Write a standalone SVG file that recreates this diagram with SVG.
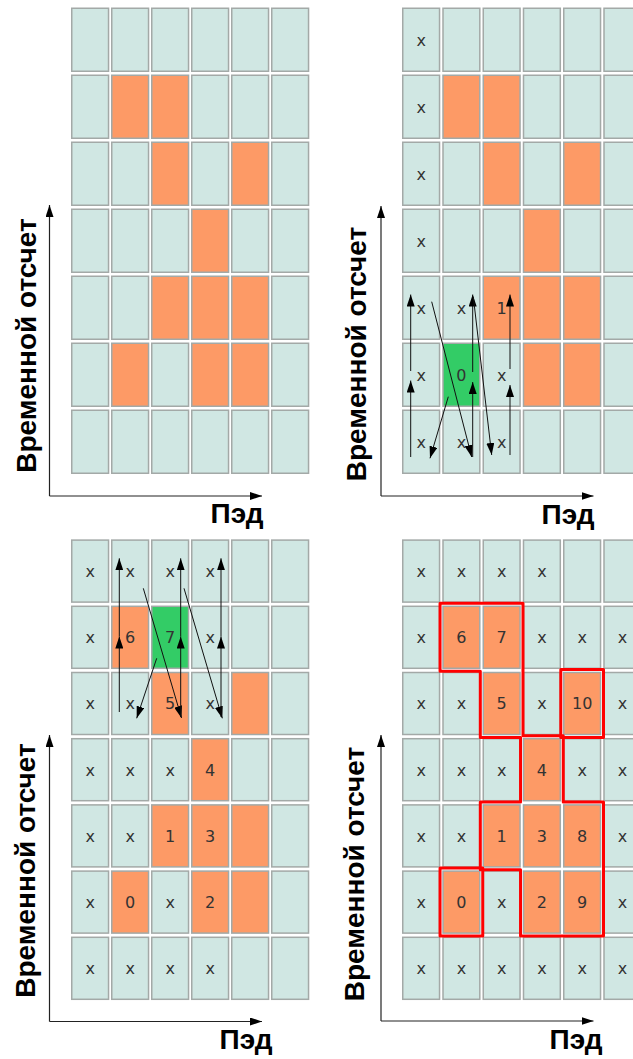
<svg xmlns="http://www.w3.org/2000/svg" width="633" height="1059" viewBox="0 0 633 1059">
<style>
.c{fill:#d0e7e3;stroke:#a3a9a7;stroke-width:1.5}
.o{fill:#fd9a66;stroke:#a3a9a7;stroke-width:1.5}
.g{fill:#33cc66;stroke:#a3a9a7;stroke-width:1.5}
.t{font-family:"DejaVu Sans",sans-serif;font-size:16px;fill:#333;text-anchor:middle}
.lab{font-family:"Liberation Sans",Arial,sans-serif;font-weight:bold;font-size:28px;fill:#000;text-anchor:middle}
.ax{stroke:#222;stroke-width:1.2;fill:none}
.ar{stroke:#111;stroke-width:1;fill:none}
.red{fill:none;stroke:#f00;stroke-width:3;stroke-linejoin:round}
</style>
<defs>
<marker id="ah" markerUnits="userSpaceOnUse" markerWidth="12" markerHeight="8" refX="12" refY="4" orient="auto"><path d="M0,0 L12,4 L0,8 z" fill="#000"/></marker>
</defs>
<rect width="633" height="1059" fill="#fff"/>

<!-- Panel 1 -->
<g id="panel1">
<g id="p1-r0c0"><rect class="c" x="71.75" y="8.25" width="36.8" height="63"/></g>
<g id="p1-r0c1"><rect class="c" x="111.75" y="8.25" width="36.8" height="63"/></g>
<g id="p1-r0c2"><rect class="c" x="151.75" y="8.25" width="36.8" height="63"/></g>
<g id="p1-r0c3"><rect class="c" x="191.75" y="8.25" width="36.8" height="63"/></g>
<g id="p1-r0c4"><rect class="c" x="231.75" y="8.25" width="36.8" height="63"/></g>
<g id="p1-r0c5"><rect class="c" x="271.75" y="8.25" width="36.8" height="63"/></g>
<g id="p1-r1c0"><rect class="c" x="71.75" y="75.25" width="36.8" height="63"/></g>
<g id="p1-r1c1"><rect class="o" x="111.75" y="75.25" width="36.8" height="63"/></g>
<g id="p1-r1c2"><rect class="o" x="151.75" y="75.25" width="36.8" height="63"/></g>
<g id="p1-r1c3"><rect class="c" x="191.75" y="75.25" width="36.8" height="63"/></g>
<g id="p1-r1c4"><rect class="c" x="231.75" y="75.25" width="36.8" height="63"/></g>
<g id="p1-r1c5"><rect class="c" x="271.75" y="75.25" width="36.8" height="63"/></g>
<g id="p1-r2c0"><rect class="c" x="71.75" y="142.25" width="36.8" height="63"/></g>
<g id="p1-r2c1"><rect class="c" x="111.75" y="142.25" width="36.8" height="63"/></g>
<g id="p1-r2c2"><rect class="o" x="151.75" y="142.25" width="36.8" height="63"/></g>
<g id="p1-r2c3"><rect class="c" x="191.75" y="142.25" width="36.8" height="63"/></g>
<g id="p1-r2c4"><rect class="o" x="231.75" y="142.25" width="36.8" height="63"/></g>
<g id="p1-r2c5"><rect class="c" x="271.75" y="142.25" width="36.8" height="63"/></g>
<g id="p1-r3c0"><rect class="c" x="71.75" y="209.25" width="36.8" height="63"/></g>
<g id="p1-r3c1"><rect class="c" x="111.75" y="209.25" width="36.8" height="63"/></g>
<g id="p1-r3c2"><rect class="c" x="151.75" y="209.25" width="36.8" height="63"/></g>
<g id="p1-r3c3"><rect class="o" x="191.75" y="209.25" width="36.8" height="63"/></g>
<g id="p1-r3c4"><rect class="c" x="231.75" y="209.25" width="36.8" height="63"/></g>
<g id="p1-r3c5"><rect class="c" x="271.75" y="209.25" width="36.8" height="63"/></g>
<g id="p1-r4c0"><rect class="c" x="71.75" y="276.25" width="36.8" height="63"/></g>
<g id="p1-r4c1"><rect class="c" x="111.75" y="276.25" width="36.8" height="63"/></g>
<g id="p1-r4c2"><rect class="o" x="151.75" y="276.25" width="36.8" height="63"/></g>
<g id="p1-r4c3"><rect class="o" x="191.75" y="276.25" width="36.8" height="63"/></g>
<g id="p1-r4c4"><rect class="o" x="231.75" y="276.25" width="36.8" height="63"/></g>
<g id="p1-r4c5"><rect class="c" x="271.75" y="276.25" width="36.8" height="63"/></g>
<g id="p1-r5c0"><rect class="c" x="71.75" y="343.25" width="36.8" height="63"/></g>
<g id="p1-r5c1"><rect class="o" x="111.75" y="343.25" width="36.8" height="63"/></g>
<g id="p1-r5c2"><rect class="c" x="151.75" y="343.25" width="36.8" height="63"/></g>
<g id="p1-r5c3"><rect class="o" x="191.75" y="343.25" width="36.8" height="63"/></g>
<g id="p1-r5c4"><rect class="o" x="231.75" y="343.25" width="36.8" height="63"/></g>
<g id="p1-r5c5"><rect class="c" x="271.75" y="343.25" width="36.8" height="63"/></g>
<g id="p1-r6c0"><rect class="c" x="71.75" y="410.25" width="36.8" height="63"/></g>
<g id="p1-r6c1"><rect class="c" x="111.75" y="410.25" width="36.8" height="63"/></g>
<g id="p1-r6c2"><rect class="c" x="151.75" y="410.25" width="36.8" height="63"/></g>
<g id="p1-r6c3"><rect class="c" x="191.75" y="410.25" width="36.8" height="63"/></g>
<g id="p1-r6c4"><rect class="c" x="231.75" y="410.25" width="36.8" height="63"/></g>
<g id="p1-r6c5"><rect class="c" x="271.75" y="410.25" width="36.8" height="63"/></g>
<g id="p1-axes"><path class="ax" d="M49.5,496 V205" marker-end="url(#ah)"/><path class="ax" d="M49.5,496 H262" marker-end="url(#ah)"/></g>
<text class="lab" transform="translate(36,345.5) rotate(-90)">Временной отсчет</text>
<text class="lab" x="237" y="523">Пэд</text>
</g>

<!-- Panel 2 -->
<g id="panel2">
<g id="p2-r0c0"><rect class="c" x="402.75" y="8.25" width="36.8" height="63"/><text class="t" x="421.15" y="46">x</text></g>
<g id="p2-r0c1"><rect class="c" x="443" y="8.25" width="36.8" height="63"/></g>
<g id="p2-r0c2"><rect class="c" x="483.25" y="8.25" width="36.8" height="63"/></g>
<g id="p2-r0c3"><rect class="c" x="523.5" y="8.25" width="36.8" height="63"/></g>
<g id="p2-r0c4"><rect class="c" x="563.75" y="8.25" width="36.8" height="63"/></g>
<g id="p2-r0c5"><rect class="c" x="604" y="8.25" width="36.8" height="63"/></g>
<g id="p2-r1c0"><rect class="c" x="402.75" y="75.25" width="36.8" height="63"/><text class="t" x="421.15" y="113">x</text></g>
<g id="p2-r1c1"><rect class="o" x="443" y="75.25" width="36.8" height="63"/></g>
<g id="p2-r1c2"><rect class="o" x="483.25" y="75.25" width="36.8" height="63"/></g>
<g id="p2-r1c3"><rect class="c" x="523.5" y="75.25" width="36.8" height="63"/></g>
<g id="p2-r1c4"><rect class="c" x="563.75" y="75.25" width="36.8" height="63"/></g>
<g id="p2-r1c5"><rect class="c" x="604" y="75.25" width="36.8" height="63"/></g>
<g id="p2-r2c0"><rect class="c" x="402.75" y="142.25" width="36.8" height="63"/><text class="t" x="421.15" y="180">x</text></g>
<g id="p2-r2c1"><rect class="c" x="443" y="142.25" width="36.8" height="63"/></g>
<g id="p2-r2c2"><rect class="o" x="483.25" y="142.25" width="36.8" height="63"/></g>
<g id="p2-r2c3"><rect class="c" x="523.5" y="142.25" width="36.8" height="63"/></g>
<g id="p2-r2c4"><rect class="o" x="563.75" y="142.25" width="36.8" height="63"/></g>
<g id="p2-r2c5"><rect class="c" x="604" y="142.25" width="36.8" height="63"/></g>
<g id="p2-r3c0"><rect class="c" x="402.75" y="209.25" width="36.8" height="63"/><text class="t" x="421.15" y="247">x</text></g>
<g id="p2-r3c1"><rect class="c" x="443" y="209.25" width="36.8" height="63"/></g>
<g id="p2-r3c2"><rect class="c" x="483.25" y="209.25" width="36.8" height="63"/></g>
<g id="p2-r3c3"><rect class="o" x="523.5" y="209.25" width="36.8" height="63"/></g>
<g id="p2-r3c4"><rect class="c" x="563.75" y="209.25" width="36.8" height="63"/></g>
<g id="p2-r3c5"><rect class="c" x="604" y="209.25" width="36.8" height="63"/></g>
<g id="p2-r4c0"><rect class="c" x="402.75" y="276.25" width="36.8" height="63"/><text class="t" x="421.15" y="314">x</text></g>
<g id="p2-r4c1"><rect class="c" x="443" y="276.25" width="36.8" height="63"/><text class="t" x="461.4" y="314">x</text></g>
<g id="p2-r4c2"><rect class="o" x="483.25" y="276.25" width="36.8" height="63"/><text class="t" x="501.65" y="314">1</text></g>
<g id="p2-r4c3"><rect class="o" x="523.5" y="276.25" width="36.8" height="63"/></g>
<g id="p2-r4c4"><rect class="o" x="563.75" y="276.25" width="36.8" height="63"/></g>
<g id="p2-r4c5"><rect class="c" x="604" y="276.25" width="36.8" height="63"/></g>
<g id="p2-r5c0"><rect class="c" x="402.75" y="343.25" width="36.8" height="63"/><text class="t" x="421.15" y="381">x</text></g>
<g id="p2-r5c1"><rect class="g" x="443" y="343.25" width="36.8" height="63"/><text class="t" x="461.4" y="381">0</text></g>
<g id="p2-r5c2"><rect class="c" x="483.25" y="343.25" width="36.8" height="63"/><text class="t" x="501.65" y="381">x</text></g>
<g id="p2-r5c3"><rect class="o" x="523.5" y="343.25" width="36.8" height="63"/></g>
<g id="p2-r5c4"><rect class="o" x="563.75" y="343.25" width="36.8" height="63"/></g>
<g id="p2-r5c5"><rect class="c" x="604" y="343.25" width="36.8" height="63"/></g>
<g id="p2-r6c0"><rect class="c" x="402.75" y="410.25" width="36.8" height="63"/><text class="t" x="421.15" y="448">x</text></g>
<g id="p2-r6c1"><rect class="c" x="443" y="410.25" width="36.8" height="63"/><text class="t" x="461.4" y="448">x</text></g>
<g id="p2-r6c2"><rect class="c" x="483.25" y="410.25" width="36.8" height="63"/><text class="t" x="501.65" y="448">x</text></g>
<g id="p2-r6c3"><rect class="c" x="523.5" y="410.25" width="36.8" height="63"/></g>
<g id="p2-r6c4"><rect class="c" x="563.75" y="410.25" width="36.8" height="63"/></g>
<g id="p2-r6c5"><rect class="c" x="604" y="410.25" width="36.8" height="63"/></g>
<g id="p2-connectors">
<path class="ar" d="M410.7,457 V380.5" marker-end="url(#ah)"/>
<path class="ar" d="M410.7,371 V294.5" marker-end="url(#ah)"/>
<path class="ar" d="M431.7,301.7 L471.7,457" marker-end="url(#ah)"/>
<path class="ar" d="M472.7,457 V382" marker-end="url(#ah)"/>
<path class="ar" d="M472.7,372 V294.5" marker-end="url(#ah)"/>
<path class="ar" d="M473.3,296.7 L491.7,455" marker-end="url(#ah)"/>
<path class="ar" d="M510,455 V385" marker-end="url(#ah)"/>
<path class="ar" d="M510,369 V294.5" marker-end="url(#ah)"/>
<path class="ar" d="M448.3,396.7 L430,458.3" marker-end="url(#ah)"/>
</g>
<g id="p2-axes"><path class="ax" d="M381,496 V206" marker-end="url(#ah)"/><path class="ax" d="M381,496 H593.5" marker-end="url(#ah)"/></g>
<text class="lab" transform="translate(365.5,354) rotate(-90)">Временной отсчет</text>
<text class="lab" x="568" y="524">Пэд</text>
</g>

<!-- Panel 3 -->
<g id="panel3">
<g id="p3-r0c0"><rect class="c" x="71.75" y="540.1" width="36.8" height="62"/><text class="t" x="90.15" y="577">x</text></g>
<g id="p3-r0c1"><rect class="c" x="111.75" y="540.1" width="36.8" height="62"/><text class="t" x="130.15" y="577">x</text></g>
<g id="p3-r0c2"><rect class="c" x="151.75" y="540.1" width="36.8" height="62"/><text class="t" x="170.15" y="577">x</text></g>
<g id="p3-r0c3"><rect class="c" x="191.75" y="540.1" width="36.8" height="62"/><text class="t" x="210.15" y="577">x</text></g>
<g id="p3-r0c4"><rect class="c" x="231.75" y="540.1" width="36.8" height="62"/></g>
<g id="p3-r0c5"><rect class="c" x="271.75" y="540.1" width="36.8" height="62"/></g>
<g id="p3-r1c0"><rect class="c" x="71.75" y="606.3" width="36.8" height="62"/><text class="t" x="90.15" y="643.2">x</text></g>
<g id="p3-r1c1"><rect class="o" x="111.75" y="606.3" width="36.8" height="62"/><text class="t" x="130.15" y="643.2">6</text></g>
<g id="p3-r1c2"><rect class="g" x="151.75" y="606.3" width="36.8" height="62"/><text class="t" x="170.15" y="643.2">7</text></g>
<g id="p3-r1c3"><rect class="c" x="191.75" y="606.3" width="36.8" height="62"/><text class="t" x="210.15" y="643.2">x</text></g>
<g id="p3-r1c4"><rect class="c" x="231.75" y="606.3" width="36.8" height="62"/></g>
<g id="p3-r1c5"><rect class="c" x="271.75" y="606.3" width="36.8" height="62"/></g>
<g id="p3-r2c0"><rect class="c" x="71.75" y="672.5" width="36.8" height="62"/><text class="t" x="90.15" y="709.4">x</text></g>
<g id="p3-r2c1"><rect class="c" x="111.75" y="672.5" width="36.8" height="62"/><text class="t" x="130.15" y="709.4">x</text></g>
<g id="p3-r2c2"><rect class="o" x="151.75" y="672.5" width="36.8" height="62"/><text class="t" x="170.15" y="709.4">5</text></g>
<g id="p3-r2c3"><rect class="c" x="191.75" y="672.5" width="36.8" height="62"/><text class="t" x="210.15" y="709.4">x</text></g>
<g id="p3-r2c4"><rect class="o" x="231.75" y="672.5" width="36.8" height="62"/></g>
<g id="p3-r2c5"><rect class="c" x="271.75" y="672.5" width="36.8" height="62"/></g>
<g id="p3-r3c0"><rect class="c" x="71.75" y="738.7" width="36.8" height="62"/><text class="t" x="90.15" y="775.6">x</text></g>
<g id="p3-r3c1"><rect class="c" x="111.75" y="738.7" width="36.8" height="62"/><text class="t" x="130.15" y="775.6">x</text></g>
<g id="p3-r3c2"><rect class="c" x="151.75" y="738.7" width="36.8" height="62"/><text class="t" x="170.15" y="775.6">x</text></g>
<g id="p3-r3c3"><rect class="o" x="191.75" y="738.7" width="36.8" height="62"/><text class="t" x="210.15" y="775.6">4</text></g>
<g id="p3-r3c4"><rect class="c" x="231.75" y="738.7" width="36.8" height="62"/></g>
<g id="p3-r3c5"><rect class="c" x="271.75" y="738.7" width="36.8" height="62"/></g>
<g id="p3-r4c0"><rect class="c" x="71.75" y="804.9" width="36.8" height="62"/><text class="t" x="90.15" y="841.8">x</text></g>
<g id="p3-r4c1"><rect class="c" x="111.75" y="804.9" width="36.8" height="62"/><text class="t" x="130.15" y="841.8">x</text></g>
<g id="p3-r4c2"><rect class="o" x="151.75" y="804.9" width="36.8" height="62"/><text class="t" x="170.15" y="841.8">1</text></g>
<g id="p3-r4c3"><rect class="o" x="191.75" y="804.9" width="36.8" height="62"/><text class="t" x="210.15" y="841.8">3</text></g>
<g id="p3-r4c4"><rect class="o" x="231.75" y="804.9" width="36.8" height="62"/></g>
<g id="p3-r4c5"><rect class="c" x="271.75" y="804.9" width="36.8" height="62"/></g>
<g id="p3-r5c0"><rect class="c" x="71.75" y="871.1" width="36.8" height="62"/><text class="t" x="90.15" y="908">x</text></g>
<g id="p3-r5c1"><rect class="o" x="111.75" y="871.1" width="36.8" height="62"/><text class="t" x="130.15" y="908">0</text></g>
<g id="p3-r5c2"><rect class="c" x="151.75" y="871.1" width="36.8" height="62"/><text class="t" x="170.15" y="908">x</text></g>
<g id="p3-r5c3"><rect class="o" x="191.75" y="871.1" width="36.8" height="62"/><text class="t" x="210.15" y="908">2</text></g>
<g id="p3-r5c4"><rect class="o" x="231.75" y="871.1" width="36.8" height="62"/></g>
<g id="p3-r5c5"><rect class="c" x="271.75" y="871.1" width="36.8" height="62"/></g>
<g id="p3-r6c0"><rect class="c" x="71.75" y="937.3" width="36.8" height="62"/><text class="t" x="90.15" y="974.2">x</text></g>
<g id="p3-r6c1"><rect class="c" x="111.75" y="937.3" width="36.8" height="62"/><text class="t" x="130.15" y="974.2">x</text></g>
<g id="p3-r6c2"><rect class="c" x="151.75" y="937.3" width="36.8" height="62"/><text class="t" x="170.15" y="974.2">x</text></g>
<g id="p3-r6c3"><rect class="c" x="191.75" y="937.3" width="36.8" height="62"/><text class="t" x="210.15" y="974.2">x</text></g>
<g id="p3-r6c4"><rect class="c" x="231.75" y="937.3" width="36.8" height="62"/></g>
<g id="p3-r6c5"><rect class="c" x="271.75" y="937.3" width="36.8" height="62"/></g>
<g id="p3-connectors">
<path class="ar" d="M119.3,712 V636.5" marker-end="url(#ah)"/>
<path class="ar" d="M119.3,636.5 V558.3" marker-end="url(#ah)"/>
<path class="ar" d="M143.3,588.3 L181.5,718" marker-end="url(#ah)"/>
<path class="ar" d="M180.7,717 V636.5" marker-end="url(#ah)"/>
<path class="ar" d="M180.7,636.5 V558.3" marker-end="url(#ah)"/>
<path class="ar" d="M156.7,658.3 L136.7,718.3" marker-end="url(#ah)"/>
<path class="ar" d="M184,588.3 L222.3,718.3" marker-end="url(#ah)"/>
<path class="ar" d="M221,717 V636.5" marker-end="url(#ah)"/>
<path class="ar" d="M221,636.5 V558.3" marker-end="url(#ah)"/>
</g>
<g id="p3-axes"><path class="ax" d="M49.5,1021.5 V735" marker-end="url(#ah)"/><path class="ax" d="M49.5,1021.5 H262" marker-end="url(#ah)"/></g>
<text class="lab" transform="translate(35,870.5) rotate(-90)">Временной отсчет</text>
<text class="lab" x="246" y="1049">Пэд</text>
</g>

<!-- Panel 4 -->
<g id="panel4">
<g id="p4-r0c0"><rect class="c" x="402.75" y="540.1" width="36.8" height="62"/><text class="t" x="421.15" y="577">x</text></g>
<g id="p4-r0c1"><rect class="c" x="443" y="540.1" width="36.8" height="62"/><text class="t" x="461.4" y="577">x</text></g>
<g id="p4-r0c2"><rect class="c" x="483.25" y="540.1" width="36.8" height="62"/><text class="t" x="501.65" y="577">x</text></g>
<g id="p4-r0c3"><rect class="c" x="523.5" y="540.1" width="36.8" height="62"/><text class="t" x="541.9" y="577">x</text></g>
<g id="p4-r0c4"><rect class="c" x="563.75" y="540.1" width="36.8" height="62"/></g>
<g id="p4-r0c5"><rect class="c" x="604" y="540.1" width="36.8" height="62"/></g>
<g id="p4-r1c0"><rect class="c" x="402.75" y="606.3" width="36.8" height="62"/><text class="t" x="421.15" y="643.2">x</text></g>
<g id="p4-r1c1"><rect class="o" x="443" y="606.3" width="36.8" height="62"/><text class="t" x="461.4" y="643.2">6</text></g>
<g id="p4-r1c2"><rect class="o" x="483.25" y="606.3" width="36.8" height="62"/><text class="t" x="501.65" y="643.2">7</text></g>
<g id="p4-r1c3"><rect class="c" x="523.5" y="606.3" width="36.8" height="62"/><text class="t" x="541.9" y="643.2">x</text></g>
<g id="p4-r1c4"><rect class="c" x="563.75" y="606.3" width="36.8" height="62"/><text class="t" x="582.15" y="643.2">x</text></g>
<g id="p4-r1c5"><rect class="c" x="604" y="606.3" width="36.8" height="62"/><text class="t" x="622.4" y="643.2">x</text></g>
<g id="p4-r2c0"><rect class="c" x="402.75" y="672.5" width="36.8" height="62"/><text class="t" x="421.15" y="709.4">x</text></g>
<g id="p4-r2c1"><rect class="c" x="443" y="672.5" width="36.8" height="62"/><text class="t" x="461.4" y="709.4">x</text></g>
<g id="p4-r2c2"><rect class="o" x="483.25" y="672.5" width="36.8" height="62"/><text class="t" x="501.65" y="709.4">5</text></g>
<g id="p4-r2c3"><rect class="c" x="523.5" y="672.5" width="36.8" height="62"/><text class="t" x="541.9" y="709.4">x</text></g>
<g id="p4-r2c4"><rect class="o" x="563.75" y="672.5" width="36.8" height="62"/><text class="t" x="582.15" y="709.4">10</text></g>
<g id="p4-r2c5"><rect class="c" x="604" y="672.5" width="36.8" height="62"/><text class="t" x="622.4" y="709.4">x</text></g>
<g id="p4-r3c0"><rect class="c" x="402.75" y="738.7" width="36.8" height="62"/><text class="t" x="421.15" y="775.6">x</text></g>
<g id="p4-r3c1"><rect class="c" x="443" y="738.7" width="36.8" height="62"/><text class="t" x="461.4" y="775.6">x</text></g>
<g id="p4-r3c2"><rect class="c" x="483.25" y="738.7" width="36.8" height="62"/><text class="t" x="501.65" y="775.6">x</text></g>
<g id="p4-r3c3"><rect class="o" x="523.5" y="738.7" width="36.8" height="62"/><text class="t" x="541.9" y="775.6">4</text></g>
<g id="p4-r3c4"><rect class="c" x="563.75" y="738.7" width="36.8" height="62"/><text class="t" x="582.15" y="775.6">x</text></g>
<g id="p4-r3c5"><rect class="c" x="604" y="738.7" width="36.8" height="62"/><text class="t" x="622.4" y="775.6">x</text></g>
<g id="p4-r4c0"><rect class="c" x="402.75" y="804.9" width="36.8" height="62"/><text class="t" x="421.15" y="841.8">x</text></g>
<g id="p4-r4c1"><rect class="c" x="443" y="804.9" width="36.8" height="62"/><text class="t" x="461.4" y="841.8">x</text></g>
<g id="p4-r4c2"><rect class="o" x="483.25" y="804.9" width="36.8" height="62"/><text class="t" x="501.65" y="841.8">1</text></g>
<g id="p4-r4c3"><rect class="o" x="523.5" y="804.9" width="36.8" height="62"/><text class="t" x="541.9" y="841.8">3</text></g>
<g id="p4-r4c4"><rect class="o" x="563.75" y="804.9" width="36.8" height="62"/><text class="t" x="582.15" y="841.8">8</text></g>
<g id="p4-r4c5"><rect class="c" x="604" y="804.9" width="36.8" height="62"/><text class="t" x="622.4" y="841.8">x</text></g>
<g id="p4-r5c0"><rect class="c" x="402.75" y="871.1" width="36.8" height="62"/><text class="t" x="421.15" y="908">x</text></g>
<g id="p4-r5c1"><rect class="o" x="443" y="871.1" width="36.8" height="62"/><text class="t" x="461.4" y="908">0</text></g>
<g id="p4-r5c2"><rect class="c" x="483.25" y="871.1" width="36.8" height="62"/><text class="t" x="501.65" y="908">x</text></g>
<g id="p4-r5c3"><rect class="o" x="523.5" y="871.1" width="36.8" height="62"/><text class="t" x="541.9" y="908">2</text></g>
<g id="p4-r5c4"><rect class="o" x="563.75" y="871.1" width="36.8" height="62"/><text class="t" x="582.15" y="908">9</text></g>
<g id="p4-r5c5"><rect class="c" x="604" y="871.1" width="36.8" height="62"/><text class="t" x="622.4" y="908">x</text></g>
<g id="p4-r6c0"><rect class="c" x="402.75" y="937.3" width="36.8" height="62"/><text class="t" x="421.15" y="974.2">x</text></g>
<g id="p4-r6c1"><rect class="c" x="443" y="937.3" width="36.8" height="62"/><text class="t" x="461.4" y="974.2">x</text></g>
<g id="p4-r6c2"><rect class="c" x="483.25" y="937.3" width="36.8" height="62"/><text class="t" x="501.65" y="974.2">x</text></g>
<g id="p4-r6c3"><rect class="c" x="523.5" y="937.3" width="36.8" height="62"/><text class="t" x="541.9" y="974.2">x</text></g>
<g id="p4-r6c4"><rect class="c" x="563.75" y="937.3" width="36.8" height="62"/><text class="t" x="582.15" y="974.2">x</text></g>
<g id="p4-r6c5"><rect class="c" x="604" y="937.3" width="36.8" height="62"/><text class="t" x="622.4" y="974.2">x</text></g>
<g id="p4-components">
<path class="red" d="M440.05,603.3 H523 V735.7 H563.25 V801.9 H603.5 V936 H520.55 V869.8 H480.3 V801.9 H520.55 V737.4 H480.3 V671.2 H440.05 Z"/>
<rect class="red" x="440.05" y="868.1" width="42.7" height="67.9"/>
<rect class="red" x="560.8" y="669.5" width="42.7" height="67.9"/>
</g>
<g id="p4-axes"><path class="ax" d="M381,1021 V735" marker-end="url(#ah)"/><path class="ax" d="M381,1021 H593.5" marker-end="url(#ah)"/></g>
<text class="lab" transform="translate(363.5,874) rotate(-90)">Временной отсчет</text>
<text class="lab" x="576" y="1049">Пэд</text>
</g>
</svg>
